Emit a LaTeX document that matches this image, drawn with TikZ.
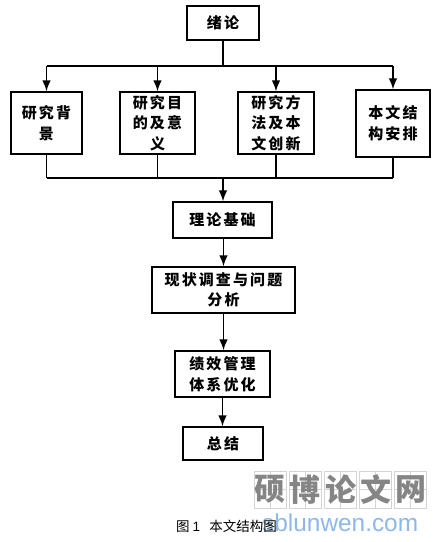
\documentclass[tikz,border=0pt]{standalone}
\usepackage{fontspec}
\usetikzlibrary{arrows.meta,calc}
\newfontfamily\cjk{Noto Sans CJK SC}
\newfontfamily\cjkspaced[LetterSpace=14]{Noto Sans CJK SC}
\setsansfont{Liberation Sans}
\definecolor{wmgray}{HTML}{858585}
\definecolor{wmline}{HTML}{D4D4D4}
\definecolor{wmblue}{HTML}{8DB8EA}
\tikzset{
  boxnode/.style={draw=black,line width=1.3pt,fill=white,align=center,inner sep=0pt,font=\fontsize{15}{20.5}\selectfont\cjkspaced\bfseries},
  link/.style={line width=1.5pt},
  arrowlink/.style={line width=1.5pt,-{Latex[length=11pt,width=8.5pt]}},
  wmbox/.style={draw=wmline,line width=.7pt,minimum width=32pt,minimum height=37pt,inner sep=0pt,text=wmgray,font=\fontsize{31}{31}\selectfont\cjk\bfseries},
}
\begin{document}
\begin{tikzpicture}[x=1pt,y=-1pt]
\useasboundingbox (0,0) rectangle (443,542);
\fill[white] (0,0) rectangle (443,542);
% boxes
\node[boxnode,minimum width=72pt,minimum height=34pt] (intro) at (223,23) {绪论};
\node[boxnode,minimum width=71pt,minimum height=62pt] (bg) at (46.5,123) {研究背\\景};
\node[boxnode,minimum width=75pt,minimum height=62pt] (aim) at (157.5,123) {研究目\\的及意\\义};
\node[boxnode,minimum width=76pt,minimum height=62pt] (method) at (276,123) {研究方\\法及本\\文创新};
\node[boxnode,minimum width=74pt,minimum height=67pt] (layout) at (393,123.5) {本文结\\构安排};
\node[boxnode,minimum width=99pt,minimum height=36pt] (theory) at (222.5,220) {理论基础};
\node[boxnode,minimum width=143pt,minimum height=46pt] (status) at (223.5,290) {现状调查与问题\\分析};
\node[boxnode,minimum width=95pt,minimum height=46pt] (perf) at (222.5,374) {绩效管理\\体系优化};
\node[boxnode,minimum width=80pt,minimum height=33pt] (concl) at (223,443.5) {总结};
% branch coordinates
\coordinate (top) at (intro.south |- 0,66);
\coordinate (bot) at (intro.south |- 0,178);
\draw[link] (intro.south) -- (top);
\draw[link] (bg.north |- top) -- (layout.north |- top);
\foreach \n in {bg,aim,method,layout}{
  \draw[arrowlink] (\n.north |- top) -- (\n.north);
  \draw[link] (\n.south) -- (\n.south |- bot);
}
\draw[link] (bg.south |- bot) -- (layout.south |- bot);
\draw[arrowlink] (bot) -- (theory.north -| bot);
\draw[arrowlink] (theory.south -| status.south) -- (status.north);
\draw[arrowlink] (status.south) -- (perf.north -| status.south);
\draw[arrowlink] (perf.south) -- (concl.north -| perf.south);
% watermark
\foreach \nm/\cx/\ch in {wa/270/硕,wb/305/博,wc/340.5/论,wd/375.5/文,we/410.5/网}{
  \draw[wmline,line width=.5pt] (\cx,471) -- (\cx,508) (\cx-16,489.5) -- (\cx+16,489.5);
  \node[wmbox,fill=none] (\nm) at (\cx,489.5) {\ch};
}
\node[text=wmblue,font=\fontsize{24.4}{24}\selectfont\sffamily,anchor=base west,inner sep=0pt] (site) at (262,531) {sblunwen.com};
% caption
\node[font=\fontsize{13.5}{14}\selectfont\cjk,anchor=west,inner sep=0pt] (cap) at (176,526) {图 {\sffamily 1}\ \ \ 本文结构图};
\end{tikzpicture}
\end{document}
